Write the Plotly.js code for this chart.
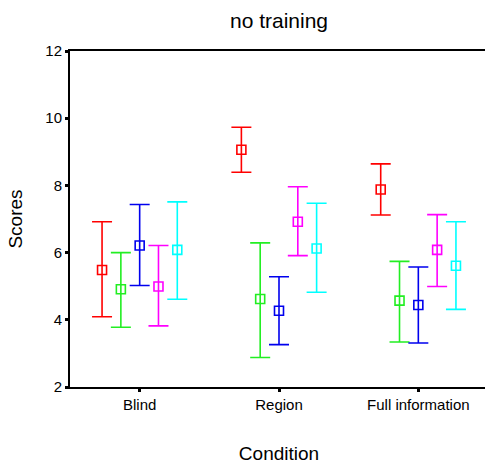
<!DOCTYPE html>
<html>
<head>
<meta charset="utf-8">
<script src="https://cdn.plot.ly/plotly-3.0.1.min.js"></script>
<style>
html,body{margin:0;padding:0;overflow:hidden;background:#fff;}
#chart{width:490px;height:466px;}
</style>
</head>
<body>
<div id="chart"></div>
<script>
// Data
const categories = ["Blind", "Region", "Full information"];
const seriesNames = ["Group 1", "Group 2", "Group 3", "Group 4", "Group 5"];
const meanRed     = [5.48, 9.06, 7.88];
const lowRed      = [4.09, 8.39, 7.12];
const highRed     = [6.92, 9.73, 8.64];
const meanGreen   = [4.91, 4.62, 4.57];
const lowGreen    = [3.78, 2.88, 3.34];
const highGreen   = [6.00, 6.29, 5.74];
const meanBlue    = [6.21, 4.27, 4.44];
const lowBlue     = [5.02, 3.26, 3.31];
const highBlue    = [7.43, 5.28, 5.57];
const meanMagenta = [4.99, 6.92, 6.08];
const lowMagenta  = [3.82, 5.91, 4.99];
const highMagenta = [6.21, 7.96, 7.13];
const meanCyan    = [6.08, 6.12, 5.61];
const lowCyan     = [4.61, 4.82, 4.31];
const highCyan    = [7.51, 7.47, 6.92];
const yTicks = [2, 4, 6, 8, 10, 12];

// Styles
const series = [
  {mean: meanRed, low: lowRed, high: highRed, color: "#ff0000", off: -0.27},
  {mean: meanGreen, low: lowGreen, high: highGreen, color: "#22ee22", off: -0.135},
  {mean: meanBlue, low: lowBlue, high: highBlue, color: "#0000ee", off: 0},
  {mean: meanMagenta, low: lowMagenta, high: highMagenta, color: "#ff00ff", off: 0.135},
  {mean: meanCyan, low: lowCyan, high: highCyan, color: "#00ffff", off: 0.27}
];

const traces = series.map((s, k) => ({
  type: "scatter",
  mode: "markers",
  name: seriesNames[k],
  x: categories.map((c, i) => i + s.off),
  y: s.mean,
  marker: {symbol: "square-open", size: 9, color: s.color, line: {width: 1.6, color: s.color}},
  error_y: {
    type: "data", symmetric: false,
    array: s.high.map((h, i) => h - s.mean[i]),
    arrayminus: s.low.map((l, i) => s.mean[i] - l),
    color: s.color, thickness: 1.6, width: 10
  },
  hoverinfo: "x+y"
}));

const font = "Arial, 'Liberation Sans', sans-serif";
const layout = {
  width: 490, height: 466,
  margin: {l: 70, r: 2, t: 51, b: 79},
  paper_bgcolor: "#fff", plot_bgcolor: "#fff",
  showlegend: false,
  font: {family: font, color: "#000"},
  title: {text: "no training", font: {size: 21, family: font, color: "#000"},
          x: 0.5, xref: "paper", y: 1 - 21/466, yref: "container", yanchor: "middle"},
  xaxis: {
    range: [-0.5, 2.5], tickvals: [0, 1, 2], ticktext: categories,
    showgrid: false, zeroline: false, showline: true, linecolor: "#000", linewidth: 2,
    mirror: true, ticks: "outside", ticklen: 3, tickwidth: 3, tickcolor: "#000",
    tickfont: {size: 15, family: font, color: "#000"},
    title: {text: "Condition", font: {size: 19, family: font, color: "#000"}, standoff: 35}
  },
  yaxis: {
    range: [2, 12], tickvals: yTicks,
    showgrid: false, zeroline: false, showline: true, linecolor: "#000", linewidth: 2,
    ticks: "outside", ticklen: 3, tickwidth: 3, tickcolor: "#000",
    tickfont: {size: 15, family: font, color: "#000"},
    title: {text: "Scores", font: {size: 19, family: font, color: "#000"}, standoff: 18}
  }
};

Plotly.newPlot("chart", traces, layout, {displayModeBar: false, staticPlot: true});
</script>
</body>
</html>
